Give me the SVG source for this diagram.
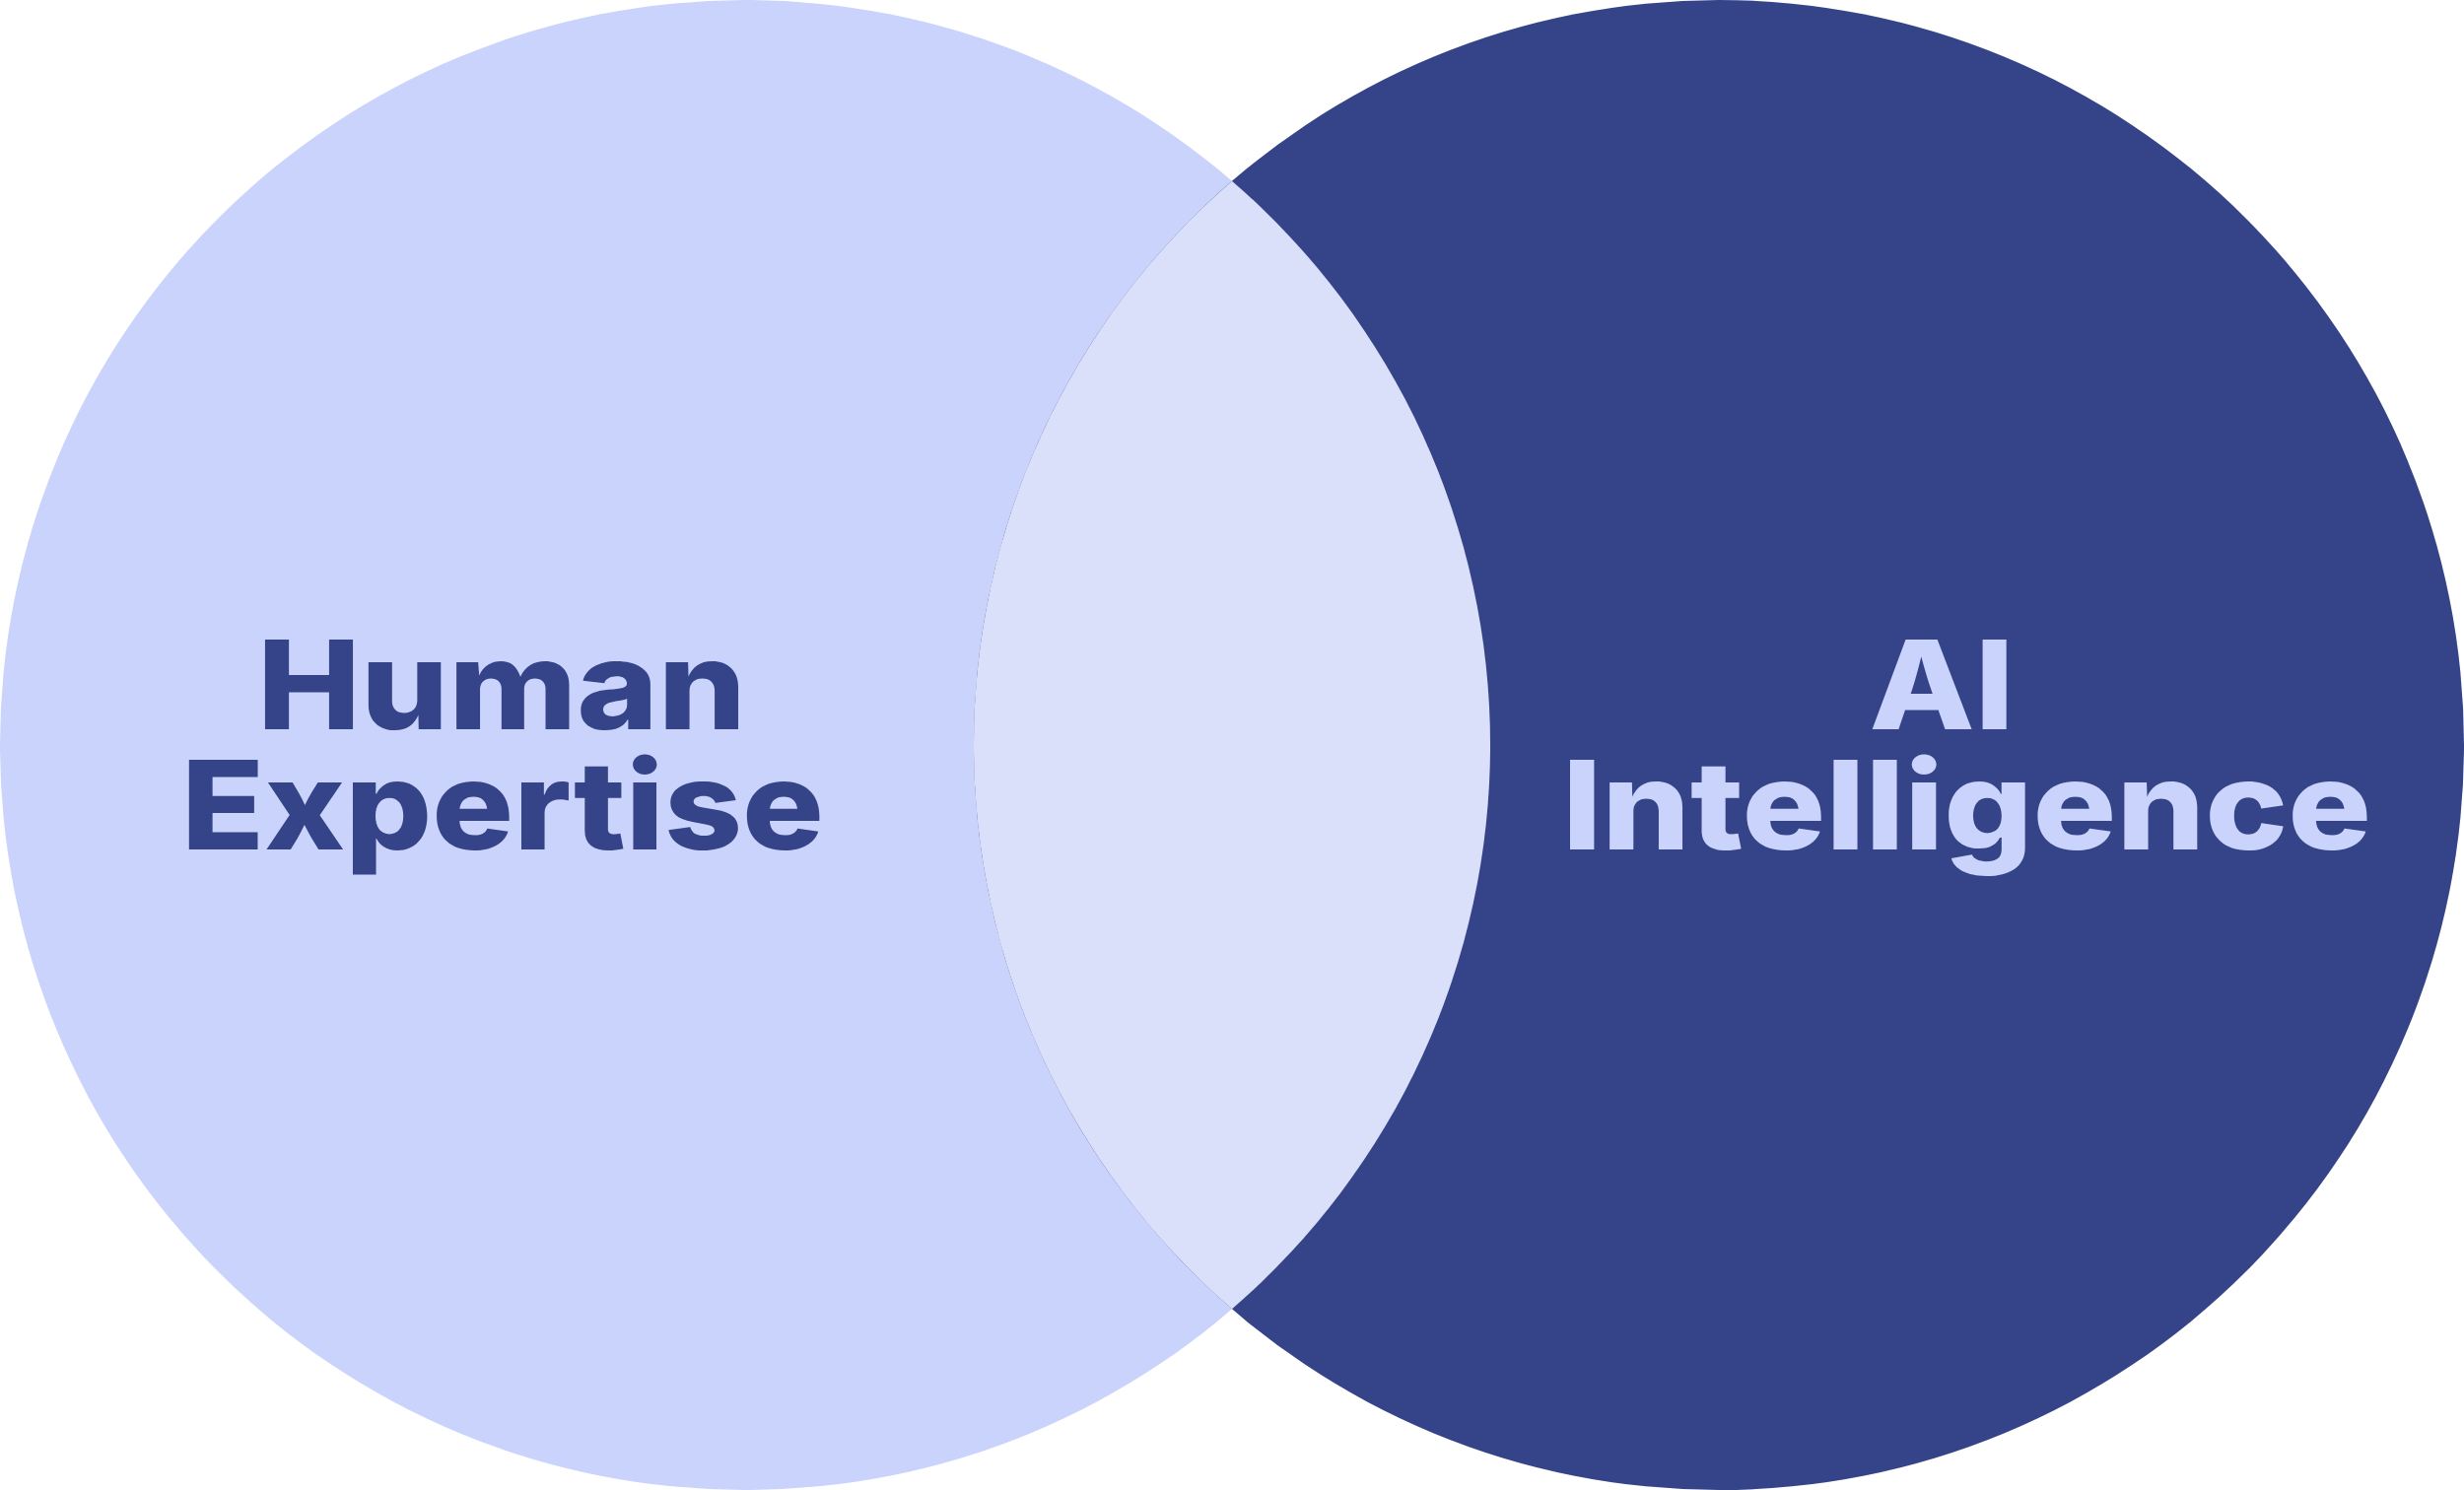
<svg xmlns="http://www.w3.org/2000/svg" width="2500" height="1512" viewBox="0 0 2500 1512">
<style>
.lbl{font-family:Inter,"Open Sans","Liberation Sans",sans-serif;font-weight:800;font-size:125px;text-anchor:middle}
.dark{fill:#354489}
.light{fill:#cad3fc}
</style>
<rect width="2500" height="1512" fill="#ffffff"/>
<g id="human-circle">
<circle cx="756" cy="756" r="756" fill="#cad3fc"/>
</g>
<g id="ai-circle">
<circle cx="1744" cy="756" r="756" fill="#354489"/>
</g>
<g id="overlap">
<path d="M1250 183.7 A756 756 0 0 1 1250 1328.3 A756 756 0 0 1 1250 183.7 Z" fill="#dadffa"/>
</g>
<g id="connectors"></g>
<g id="human-label">
<text class="lbl dark" x="509" y="740" textLength="496" lengthAdjust="spacingAndGlyphs">Human</text>
<text class="lbl dark" x="510" y="862" textLength="652" lengthAdjust="spacingAndGlyphs">Expertise</text>
</g>
<g id="ai-label">
<text class="lbl light" x="1970" y="740" textLength="147" lengthAdjust="spacingAndGlyphs">AI</text>
<text class="lbl light" x="1995.5" y="862" textLength="821" lengthAdjust="spacingAndGlyphs">Intelligence</text>
</g>
</svg>
